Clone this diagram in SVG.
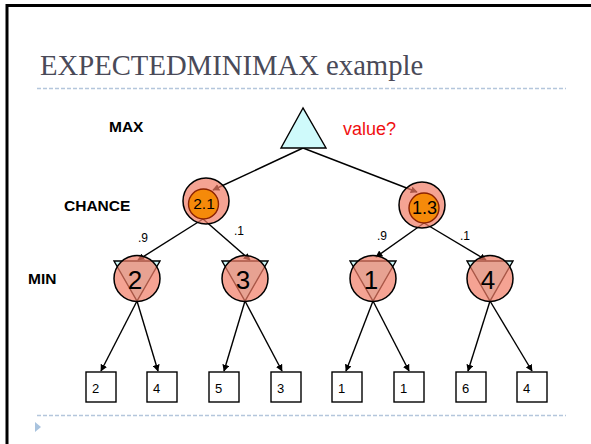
<svg xmlns="http://www.w3.org/2000/svg" width="591" height="444" viewBox="0 0 591 444">
<defs>
<style>
.frame{stroke:#000;stroke-width:3;fill:none}
.dash{stroke:#b4c6dc;stroke-width:1.3;stroke-dasharray:4 2;fill:none}
.title{font-family:"Liberation Serif",serif;font-size:28.7px;fill:#4a4a58}
.lbl{font-family:"Liberation Sans",Arial,sans-serif;font-size:15.5px;font-weight:bold;fill:#000}
.prob{font-family:"Liberation Sans",Arial,sans-serif;font-size:12px;fill:#000}
.edge{stroke:#000;stroke-width:1.4;fill:none;marker-end:url(#ah)}
.tri{fill:#cffafb;stroke:#000;stroke-width:1.4}
.circ{fill:#f17c65;fill-opacity:0.7;stroke:#000;stroke-width:1.5}
.inner{fill:#f58a0a;stroke:#8b2200;stroke-width:1.4}
.big{font-family:"Liberation Sans",Arial,sans-serif;font-size:26px;fill:#000;text-anchor:middle}
.mid{font-family:"Liberation Sans",Arial,sans-serif;fill:#000;text-anchor:middle}
.leaf{fill:#fff;stroke:#000;stroke-width:1.4}
.lt{font-family:"Liberation Sans",Arial,sans-serif;font-size:13px;fill:#000}
</style>
<marker id="ah" viewBox="0 0 10 10" refX="9" refY="5" markerWidth="7" markerHeight="7" markerUnits="userSpaceOnUse" orient="auto">
<path d="M0,0 L10,5 L0,10 z" fill="#000"/>
</marker>
</defs>
<rect width="591" height="444" fill="#fff"/>
<path class="frame" d="M7,444 V5.5 H591"/>
<text class="title" x="40" y="75">EXPECTEDMINIMAX example</text>
<line class="dash" x1="37" y1="88.5" x2="566" y2="88.5"/>
<line class="dash" x1="37" y1="415.5" x2="566" y2="415.5"/>
<polygon points="35,422 35,432 41,427" fill="#a9c3de"/>

<text class="lbl" x="109" y="132">MAX</text>
<text class="lbl" x="64" y="211">CHANCE</text>
<text class="lbl" x="28" y="284">MIN</text>
<text x="343" y="135" font-family="Liberation Sans,Arial,sans-serif" font-size="18" fill="#f01010">value?</text>

<text class="prob" x="138" y="242">.9</text>
<text class="prob" x="234" y="235">.1</text>
<text class="prob" x="377" y="240">.9</text>
<text class="prob" x="460" y="240">.1</text>

<g id="connectors">
<line class="edge" x1="303" y1="148" x2="213" y2="190"/>
<line class="edge" x1="303" y1="148" x2="417" y2="192"/>
<line class="edge" x1="203" y1="219" x2="138" y2="260"/>
<line class="edge" x1="203" y1="219" x2="250" y2="260"/>
<line class="edge" x1="424" y1="223" x2="376" y2="257"/>
<line class="edge" x1="424" y1="223" x2="486" y2="260"/>
<line class="edge" x1="137" y1="301" x2="101" y2="371"/>
<line class="edge" x1="137" y1="301" x2="158" y2="371"/>
<line class="edge" x1="245" y1="301" x2="224" y2="371"/>
<line class="edge" x1="245" y1="301" x2="282" y2="371"/>
<line class="edge" x1="373" y1="301" x2="346" y2="371"/>
<line class="edge" x1="373" y1="301" x2="409" y2="371"/>
<line class="edge" x1="490" y1="301" x2="468" y2="371"/>
<line class="edge" x1="490" y1="301" x2="532" y2="371"/>
</g>

<g id="max"><polygon class="tri" points="303,108 281,148 326,148"/></g>

<g id="chance1">
<circle class="circ" cx="206" cy="201" r="23"/>
<circle class="inner" cx="203.5" cy="204" r="15"/>
<text class="mid" x="204" y="208.5" font-size="15.5">2.1</text>
</g>
<g id="chance2">
<circle class="circ" cx="422" cy="205" r="23"/>
<circle class="inner" cx="424" cy="208" r="15"/>
<text class="mid" x="424.5" y="213.5" font-size="18">1.3</text>
</g>

<g id="min1">
<polygon class="tri" points="114,261 160,261 137,301"/>
<circle class="circ" cx="137" cy="278.5" r="23"/>
<text class="big" x="135" y="289">2</text>
</g>
<g id="min2">
<polygon class="tri" points="222,261 268,261 245,301"/>
<circle class="circ" cx="245" cy="278.5" r="23"/>
<text class="big" x="243" y="289">3</text>
</g>
<g id="min3">
<polygon class="tri" points="350,261 396,261 373,301"/>
<circle class="circ" cx="373" cy="278.5" r="23"/>
<text class="big" x="371" y="289">1</text>
</g>
<g id="min4">
<polygon class="tri" points="467,261 513,261 490,301"/>
<circle class="circ" cx="490" cy="278.5" r="23"/>
<text class="big" x="488" y="289">4</text>
</g>

<g id="leaf1"><rect class="leaf" x="86" y="372" width="30" height="30"/><text class="lt" x="92" y="393">2</text></g>
<g id="leaf2"><rect class="leaf" x="147" y="372" width="30" height="30"/><text class="lt" x="153" y="393">4</text></g>
<g id="leaf3"><rect class="leaf" x="209" y="372" width="30" height="30"/><text class="lt" x="215" y="393">5</text></g>
<g id="leaf4"><rect class="leaf" x="271" y="372" width="30" height="30"/><text class="lt" x="277" y="393">3</text></g>
<g id="leaf5"><rect class="leaf" x="332" y="372" width="30" height="30"/><text class="lt" x="338" y="393">1</text></g>
<g id="leaf6"><rect class="leaf" x="394" y="372" width="30" height="30"/><text class="lt" x="400" y="393">1</text></g>
<g id="leaf7"><rect class="leaf" x="456" y="372" width="30" height="30"/><text class="lt" x="462" y="393">6</text></g>
<g id="leaf8"><rect class="leaf" x="517" y="372" width="30" height="30"/><text class="lt" x="523" y="393">4</text></g>
</svg>
